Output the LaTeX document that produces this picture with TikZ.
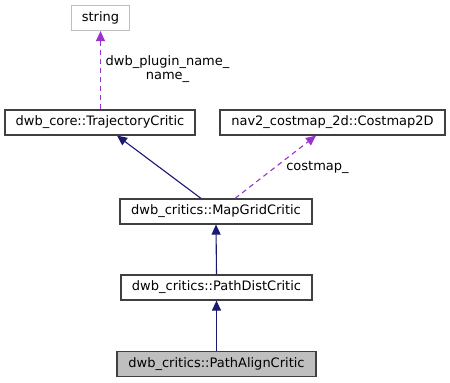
\documentclass[tikz,border=0pt]{standalone}
\usepackage{fontspec}
\setmainfont{DejaVu Sans}
\usetikzlibrary{arrows.meta,calc}
\definecolor{edgeblue}{HTML}{191970}
\definecolor{edgepurple}{HTML}{9A32CD}
\definecolor{boxgray}{HTML}{BFBFBF}
\definecolor{boxborder}{HTML}{404040}
\tikzset{
  box/.style={draw=boxborder, line width=1.2pt, fill=white, inner sep=0pt, minimum height=25pt, font=\fontsize{13}{15}\selectfont},
  inherit/.style={draw=edgeblue, line width=1.1pt, -{Triangle[length=10pt,width=9pt]}, color=edgeblue},
  usage/.style={draw=edgepurple, line width=1.1pt, dash pattern=on 5pt off 4pt, -{Triangle[length=10pt,width=9pt]}, color=edgepurple},
  lbl/.style={font=\fontsize{13}{14}\selectfont, inner sep=0pt, align=center}
}
\begin{document}
\begin{tikzpicture}[x=1pt,y=-1pt]
\useasboundingbox (0,0) rectangle (450,383);
\node[box, draw=boxgray, minimum width=58pt] (str) at (100.5,18) {string};
\node[box, minimum width=190pt] (tc) at (100,122.5) {dwb\_core::TrajectoryCritic};
\node[box, minimum width=225pt] (cm) at (332.5,122.5) {nav2\_costmap\_2d::Costmap2D};
\node[box, minimum width=192pt] (mg) at (216,211.5) {dwb\_critics::MapGridCritic};
\node[box, minimum width=191pt] (pd) at (216.5,287.5) {dwb\_critics::PathDistCritic};
\node[box, fill=boxgray, minimum width=199pt] (pa) at (216.5,364) {dwb\_critics::PathAlignCritic};
\draw[usage] (tc.north -| str.south) -- (str.south);
\node[lbl] (l1) at (167.5,69) {dwb\_plugin\_name\_\\name\_};
\draw[inherit] ([xshift=-15pt]mg.north) -- ([xshift=17pt]tc.south);
\draw[usage] ([xshift=19pt]mg.north) -- ([xshift=-16.5pt]cm.south);
\node[lbl] (l2) at (317.5,167) {costmap\_};
\draw[inherit] (pd.north) -- (mg.south);
\draw[inherit] (pa.north) -- (pd.south);
\end{tikzpicture}
\end{document}
